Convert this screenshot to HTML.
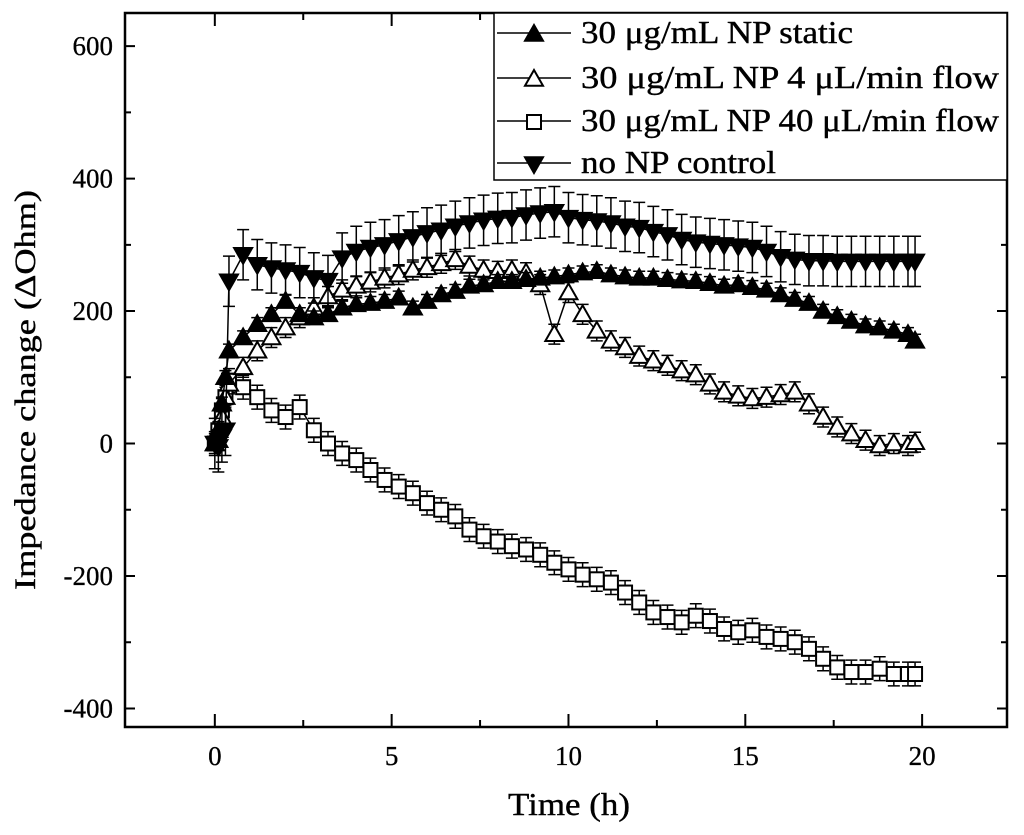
<!DOCTYPE html>
<html><head><meta charset="utf-8"><style>
html,body{margin:0;padding:0;background:#fff;}
svg{display:block;font-family:"Liberation Serif",serif;}
</style></head><body>
<svg id="chart" width="1024" height="835" viewBox="0 0 1024 835" xmlns="http://www.w3.org/2000/svg">
<g id="plot"></g>
<g id="axes"></g>
<text x="508" y="815" font-size="32" stroke="#000" stroke-width="0.4" textLength="122" lengthAdjust="spacingAndGlyphs">Time (h)</text>
<text transform="translate(35,590) rotate(-90)" font-size="30" stroke="#000" stroke-width="0.4" textLength="400" lengthAdjust="spacingAndGlyphs">Impedance change (ΔOhm)</text>
<g id="legend"></g>
</svg>
<script>
const times=[0,0.1,0.2,0.3,0.4,0.8,1.2,1.6,2.0,2.4,2.8,3.2,3.6,4.0,4.4,4.8,5.2,5.6,6.0,6.4,6.8,7.2,7.6,8.0,8.4,8.8,9.2,9.6,10.0,10.4,10.8,11.2,11.6,12.0,12.4,12.8,13.2,13.6,14.0,14.4,14.8,15.2,15.6,16.0,16.4,16.8,17.2,17.6,18.0,18.4,18.8,19.2,19.6,19.8];
const staticVals=[0,20,60,100,140,160,180,195,215,195,190,195,205,210,212,215,220,205,215,225,230,238,240,245,245,248,250,252,255,258,260,255,252,250,250,248,246,245,242,238,240,236,232,225,218,212,200,192,185,178,175,170,165,155];
const flow4Vals=[0,5,40,70,90,115,140,160,175,190,205,222,232,238,244,250,255,262,266,272,278,268,262,260,262,258,240,165,228,195,170,155,145,132,125,118,110,104,90,78,72,68,70,74,78,60,40,25,15,5,-3,0,-3,2];
const flow40Vals=[0,20,50,70,95,85,70,50,40,55,20,0,-15,-25,-40,-55,-65,-75,-90,-100,-110,-130,-140,-148,-155,-160,-168,-180,-190,-198,-205,-210,-225,-240,-255,-262,-270,-260,-268,-280,-285,-282,-292,-295,-300,-310,-325,-338,-345,-345,-340,-348,-348,-348];
const controlVals=[0,-5,10,20,245,285,270,265,262,258,250,246,280,290,296,300,306,312,318,322,328,333,337,340,341,345,348,350,341,338,336,333,328,326,320,315,308,304,302,300,298,296,290,282,278,276,276,275,275,275,275,275,275,275];
const errSizes=[10,15,18,38];
const xTicks=[0,5,10,15,20];
const yTicks=[-400,-200,0,200,400,600];
const legendLabels=["30 μg/mL NP static","30 μg/mL NP 4 μL/min flow","30 μg/mL NP 40 μL/min flow","no NP control"];
const legendWidths=[272,418,418,195];

const L=125,R=1007,T=13,B=727;
const X0=-2.54,X1=22.4,Y0=-428,Y1=650;
const xs=v=>L+(v-X0)/(X1-X0)*(R-L);
const ys=v=>B-(v-Y0)/(Y1-Y0)*(B-T);
const NS="http://www.w3.org/2000/svg";
function mk(tag,attrs,parent){const e=document.createElementNS(NS,tag);for(const k in attrs)e.setAttribute(k,attrs[k]);parent.appendChild(e);return e;}
const plot=document.getElementById('plot'),axes=document.getElementById('axes'),legend=document.getElementById('legend');

function marker(type,cx,cy,parent,name){
  let e;const s=9;
  if(type==='up'||type==='upOpen'){
    e=mk('polygon',{points:`${cx},${cy-s} ${cx-s},${cy+s*0.75} ${cx+s},${cy+s*0.75}`,fill:type==='up'?'#000':'#fff',stroke:'#000','stroke-width':2},parent);
  }else if(type==='down'){
    e=mk('polygon',{points:`${cx},${cy+s} ${cx-s},${cy-s*0.75} ${cx+s},${cy-s*0.75}`,fill:'#000',stroke:'#000','stroke-width':2},parent);
  }else{
    e=mk('rect',{x:cx-7,y:cy-7,width:14,height:14,fill:'#fff',stroke:'#000','stroke-width':2},parent);
  }
  
  
  return e;
}
const series=[
 {vals:flow40Vals,type:'square',err:errSizes[2],name:'flow40'},
 {vals:flow4Vals,type:'upOpen',err:errSizes[1],name:'flow4'},
 {vals:staticVals,type:'up',err:errSizes[0],name:'static'},
 {vals:controlVals,type:'down',err:errSizes[3],name:'control'}
];
series.forEach(s=>{
  const g=mk('g',{},plot);
  
  
  times.forEach((t,i)=>{
    const x=xs(t);const eb=ys(s.vals[i]+s.err),et=ys(s.vals[i]-s.err);
    const p=mk('path',{d:`M${x},${eb}V${et}M${x-6},${eb}H${x+6}M${x-6},${et}H${x+6}`,stroke:'#000','stroke-width':1.5,fill:'none'},g);
    
    
  });
  const line=mk('polyline',{points:times.map((t,i)=>xs(t)+','+ys(s.vals[i])).join(' '),fill:'none',stroke:'#000','stroke-width':1.5},g);
  
  
  times.forEach((t,i)=>marker(s.type,xs(t),ys(s.vals[i]),g,'point-'+s.name));
});

const fr=mk('rect',{x:L,y:T,width:R-L,height:B-T,fill:'none',stroke:'#000','stroke-width':2.5},axes);


for(let v=-2.5;v<=22.5;v+=2.5){
  const x=xs(v);if(x<L+2||x>R-2)continue;const major=v%5===0;const len=major?13:7;
  const tk=mk('path',{d:`M${x},${B}V${B-len}M${x},${T}V${T+len}`,stroke:'#000','stroke-width':2},axes);
  
  
}
xTicks.forEach(v=>{
  const t=mk('text',{x:xs(v),y:B+38,'font-size':27,stroke:'#000','stroke-width':0.3,'text-anchor':'middle'},axes);t.textContent=v;
  
  
});
for(let v=-400;v<=600;v+=100){
  const y=ys(v);const major=v%200===0;const len=major?10:6;
  const tk=mk('path',{d:`M${L},${y}H${L+len}M${R},${y}H${R-len}`,stroke:'#000','stroke-width':2},axes);
  
  
}
yTicks.forEach(v=>{
  const t=mk('text',{x:L-12,y:ys(v)+9,'font-size':27,stroke:'#000','stroke-width':0.3,'text-anchor':'end'},axes);t.textContent=v;
  
  
});

const lb=mk('rect',{x:494,y:T,width:R-494,height:167,fill:'#fff',stroke:'#000','stroke-width':1.5},legend);


const ltypes=['up','upOpen','square','down'];const lrows=[33,78,121,163];
legendLabels.forEach((lab,i)=>{
  const g=mk('g',{},legend);
  
  
  mk('line',{x1:497,x2:571,y1:lrows[i],y2:lrows[i],stroke:'#000','stroke-width':1.5},g);
  marker(ltypes[i],534,lrows[i]+1,g,'legend-marker');
  const t=mk('text',{x:581,y:lrows[i]+10,'font-size':32,stroke:'#000','stroke-width':0.4,textLength:legendWidths[i],lengthAdjust:'spacingAndGlyphs'},g);t.textContent=lab;
  
  
});
</script>
</body></html>
